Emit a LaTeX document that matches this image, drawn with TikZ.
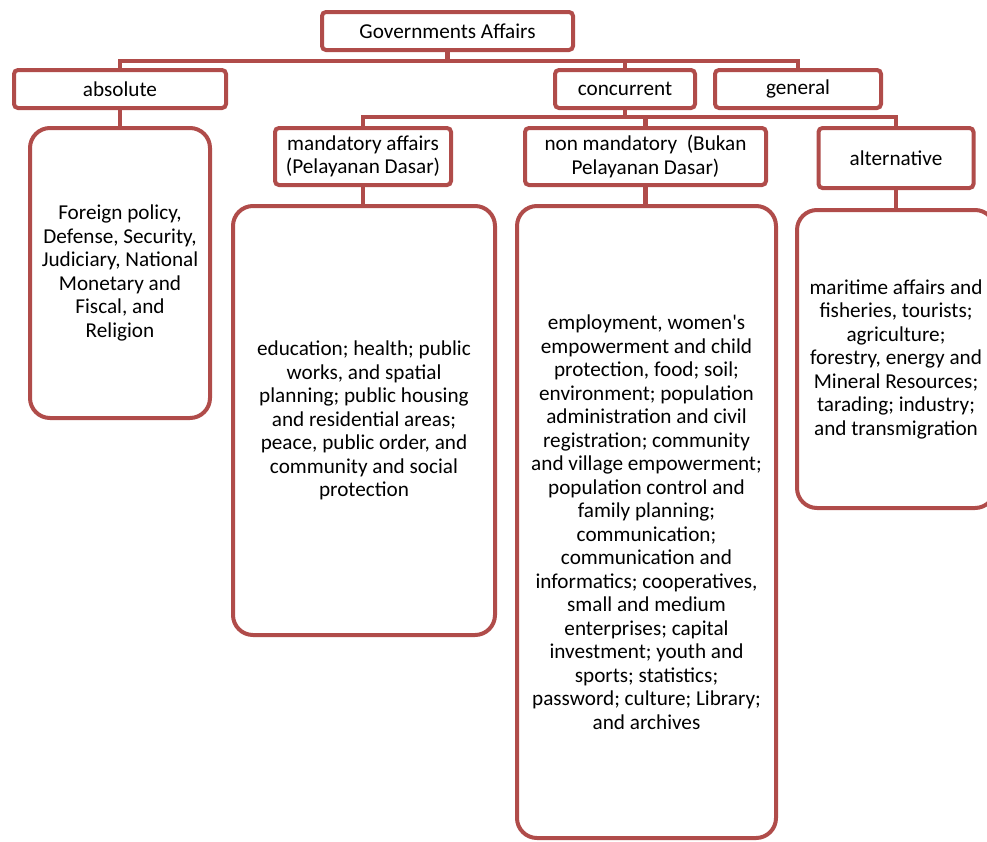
\documentclass[tikz,border=0pt]{standalone}
\usepackage{fontspec}
\setmainfont{Carlito}
\definecolor{boxred}{RGB}{176,76,74}
\begin{document}
\begin{tikzpicture}[x=1pt,y=-1pt,
  every node/.style={font=\fontsize{21.2}{23.5}\selectfont, text=black},
  hdr/.style={draw=boxred, line width=4pt, rounded corners=4pt, fill=white, align=center, inner sep=0pt},
  big/.style={draw=boxred, line width=4pt, rounded corners=20pt, fill=white, align=center, inner sep=0pt},
  conn/.style={draw=boxred, line width=4.5pt}]
\useasboundingbox (0,0) rectangle (987,841);
% header nodes
\node[hdr, minimum width=251pt, minimum height=38pt] (gov) at (447.5,31) {Governments Affairs};
\node[hdr, minimum width=212pt, minimum height=38pt] (abs) at (120,89) {absolute};
\node[hdr, minimum width=140pt, minimum height=38pt] (conc) at (625,89) {concurrent};
\node[hdr, minimum width=166pt, minimum height=38pt] (gen) at (798,89) {general};
\node[hdr, minimum width=176pt, minimum height=57pt] (mand) at (363,156.5) {mandatory affairs\\(Pelayanan Dasar)};
\node[hdr, minimum width=241pt, minimum height=57pt] (nonm) at (645.5,156.5) {non mandatory\ \ (Bukan\\Pelayanan Dasar)};
\node[hdr, minimum width=155pt, minimum height=60pt] (alt) at (896,158) {alternative};
% big boxes
\node[big, minimum width=180pt, minimum height=290pt] (babs) at (120,273)
  {Foreign policy,\\Defense, Security,\\Judiciary, National\\Monetary and\\Fiscal, and\\Religion};
\node[big, minimum width=262pt, minimum height=429pt] (bmand) at (364,420.5)
  {education; health; public\\works, and spatial\\planning; public housing\\and residential areas;\\peace, public order, and\\community and social\\protection};
\node[big, minimum width=259pt, minimum height=632pt] (bnon) at (646.5,522)
  {employment, women\textquotesingle s\\empowerment and child\\protection, food; soil;\\environment; population\\administration and civil\\registration; community\\and village empowerment;\\population control and\\family planning;\\communication;\\communication and\\informatics; cooperatives,\\small and medium\\enterprises; capital\\investment; youth and\\sports; statistics;\\password; culture; Library;\\and archives};
\node[big, minimum width=198pt, minimum height=298pt] (balt) at (896,359)
  {maritime affairs and\\fisheries, tourists;\\agriculture;\\forestry, energy and\\Mineral Resources;\\tarading; industry;\\and transmigration};
% connectors
\coordinate (j1) at (447.5,61);
\coordinate (j2) at (625,117);
\begin{scope}[on background layer/.try]
\draw[conn] (gov.south) -- (j1);
\draw[conn] (j1) -| (abs.north);
\draw[conn] (j1) -| (gen.north);
\draw[conn] (j1) -| (conc.north);
\draw[conn] (conc.south) -- (j2);
\draw[conn] (j2) -| (mand.north);
\draw[conn] (j2) -| (nonm.north);
\draw[conn] (j2) -| (alt.north);
\draw[conn] (abs.south) -- (babs.north);
\draw[conn] (mand.south) -- (mand.south |- bmand.north);
\draw[conn] (nonm.south) -- (nonm.south |- bnon.north);
\draw[conn] (alt.south) -- (alt.south |- balt.north);
\end{scope}
\end{tikzpicture}
\end{document}
